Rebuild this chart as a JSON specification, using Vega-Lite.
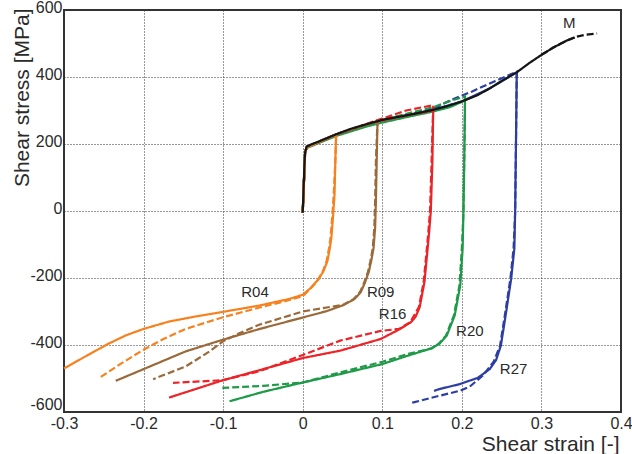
{
  "$schema": "https://vega.github.io/schema/vega-lite/v6.json",
  "width": 557,
  "height": 402,
  "autosize": {"type": "none"},
  "padding": {"left": 64, "top": 10, "right": 11, "bottom": 42},
  "background": "white",
  "config": {
    "view": {"stroke": "#333333", "strokeWidth": 2},
    "font": "Liberation Sans",
    "axis": {
      "domain": false,
      "ticks": false,
      "grid": true,
      "gridColor": "#333333",
      "gridDash": [1, 2],
      "gridWidth": 1,
      "labelFont": "Liberation Sans",
      "labelFontSize": 16,
      "labelColor": "#2a2a2a",
      "titleFont": "Liberation Sans",
      "titleFontSize": 21,
      "titleFontWeight": "normal",
      "titleColor": "#2a2a2a"
    }
  },
  "datasets": {
    "curves": [
      {"c":"R27","t":"model","x":0,"y":-5},{"c":"R27","t":"model","x":0.003,"y":175},{"c":"R27","t":"model","x":0.005,"y":192},{"c":"R27","t":"model","x":0.042,"y":229},{"c":"R27","t":"model","x":0.1,"y":272},{"c":"R27","t":"model","x":0.164,"y":302},{"c":"R27","t":"model","x":0.2,"y":327},{"c":"R27","t":"model","x":0.235,"y":366},{"c":"R27","t":"model","x":0.269,"y":414},{"c":"R27","t":"model","x":0.268,"y":200},{"c":"R27","t":"model","x":0.267,"y":0},{"c":"R27","t":"model","x":0.266,"y":-112},{"c":"R27","t":"model","x":0.262,"y":-202},{"c":"R27","t":"model","x":0.255,"y":-312},{"c":"R27","t":"model","x":0.249,"y":-402},{"c":"R27","t":"model","x":0.243,"y":-445},{"c":"R27","t":"model","x":0.235,"y":-472},{"c":"R27","t":"model","x":0.22,"y":-498},{"c":"R27","t":"model","x":0.197,"y":-517},{"c":"R27","t":"model","x":0.171,"y":-532},{"c":"R27","t":"model","x":0.165,"y":-537},
      {"c":"R27","t":"exp","x":0,"y":-5},{"c":"R27","t":"exp","x":0.003,"y":175},{"c":"R27","t":"exp","x":0.005,"y":192},{"c":"R27","t":"exp","x":0.042,"y":229},{"c":"R27","t":"exp","x":0.1,"y":272},{"c":"R27","t":"exp","x":0.164,"y":305},{"c":"R27","t":"exp","x":0.185,"y":330},{"c":"R27","t":"exp","x":0.213,"y":357},{"c":"R27","t":"exp","x":0.24,"y":386},{"c":"R27","t":"exp","x":0.269,"y":416},{"c":"R27","t":"exp","x":0.268,"y":200},{"c":"R27","t":"exp","x":0.267,"y":0},{"c":"R27","t":"exp","x":0.265,"y":-112},{"c":"R27","t":"exp","x":0.261,"y":-202},{"c":"R27","t":"exp","x":0.254,"y":-312},{"c":"R27","t":"exp","x":0.248,"y":-402},{"c":"R27","t":"exp","x":0.24,"y":-450},{"c":"R27","t":"exp","x":0.226,"y":-492},{"c":"R27","t":"exp","x":0.21,"y":-524},{"c":"R27","t":"exp","x":0.197,"y":-537},{"c":"R27","t":"exp","x":0.171,"y":-552},{"c":"R27","t":"exp","x":0.138,"y":-572},{"c":"R27","t":"exp","x":0.134,"y":-575},
      {"c":"R20","t":"model","x":0,"y":-5},{"c":"R20","t":"model","x":0.003,"y":175},{"c":"R20","t":"model","x":0.005,"y":188},{"c":"R20","t":"model","x":0.042,"y":224},{"c":"R20","t":"model","x":0.08,"y":252},{"c":"R20","t":"model","x":0.1,"y":264},{"c":"R20","t":"model","x":0.13,"y":280},{"c":"R20","t":"model","x":0.164,"y":297},{"c":"R20","t":"model","x":0.185,"y":310},{"c":"R20","t":"model","x":0.204,"y":330},{"c":"R20","t":"model","x":0.203,"y":150},{"c":"R20","t":"model","x":0.202,"y":0},{"c":"R20","t":"model","x":0.201,"y":-112},{"c":"R20","t":"model","x":0.198,"y":-222},{"c":"R20","t":"model","x":0.191,"y":-312},{"c":"R20","t":"model","x":0.181,"y":-372},{"c":"R20","t":"model","x":0.172,"y":-396},{"c":"R20","t":"model","x":0.162,"y":-410},{"c":"R20","t":"model","x":0.132,"y":-432},{"c":"R20","t":"model","x":0.1,"y":-457},{"c":"R20","t":"model","x":0.047,"y":-487},{"c":"R20","t":"model","x":0,"y":-512},{"c":"R20","t":"model","x":-0.05,"y":-540},{"c":"R20","t":"model","x":-0.092,"y":-568},
      {"c":"R20","t":"exp","x":0,"y":-5},{"c":"R20","t":"exp","x":0.003,"y":175},{"c":"R20","t":"exp","x":0.005,"y":190},{"c":"R20","t":"exp","x":0.042,"y":228},{"c":"R20","t":"exp","x":0.1,"y":272},{"c":"R20","t":"exp","x":0.164,"y":310},{"c":"R20","t":"exp","x":0.185,"y":328},{"c":"R20","t":"exp","x":0.204,"y":342},{"c":"R20","t":"exp","x":0.203,"y":150},{"c":"R20","t":"exp","x":0.202,"y":0},{"c":"R20","t":"exp","x":0.2,"y":-112},{"c":"R20","t":"exp","x":0.197,"y":-222},{"c":"R20","t":"exp","x":0.19,"y":-312},{"c":"R20","t":"exp","x":0.18,"y":-372},{"c":"R20","t":"exp","x":0.171,"y":-396},{"c":"R20","t":"exp","x":0.162,"y":-410},{"c":"R20","t":"exp","x":0.132,"y":-427},{"c":"R20","t":"exp","x":0.1,"y":-450},{"c":"R20","t":"exp","x":0.047,"y":-482},{"c":"R20","t":"exp","x":0,"y":-512},{"c":"R20","t":"exp","x":-0.05,"y":-522},{"c":"R20","t":"exp","x":-0.101,"y":-528},
      {"c":"R16","t":"model","x":0,"y":-5},{"c":"R16","t":"model","x":0.003,"y":175},{"c":"R16","t":"model","x":0.005,"y":190},{"c":"R16","t":"model","x":0.042,"y":228},{"c":"R16","t":"model","x":0.08,"y":258},{"c":"R16","t":"model","x":0.1,"y":270},{"c":"R16","t":"model","x":0.13,"y":285},{"c":"R16","t":"model","x":0.164,"y":300},{"c":"R16","t":"model","x":0.163,"y":150},{"c":"R16","t":"model","x":0.161,"y":0},{"c":"R16","t":"model","x":0.159,"y":-60},{"c":"R16","t":"model","x":0.157,"y":-112},{"c":"R16","t":"model","x":0.153,"y":-212},{"c":"R16","t":"model","x":0.147,"y":-287},{"c":"R16","t":"model","x":0.142,"y":-315},{"c":"R16","t":"model","x":0.136,"y":-332},{"c":"R16","t":"model","x":0.121,"y":-354},{"c":"R16","t":"model","x":0.098,"y":-382},{"c":"R16","t":"model","x":0.047,"y":-417},{"c":"R16","t":"model","x":0,"y":-439},{"c":"R16","t":"model","x":-0.054,"y":-475},{"c":"R16","t":"model","x":-0.1,"y":-505},{"c":"R16","t":"model","x":-0.168,"y":-557},
      {"c":"R16","t":"exp","x":0,"y":-5},{"c":"R16","t":"exp","x":0.003,"y":175},{"c":"R16","t":"exp","x":0.005,"y":190},{"c":"R16","t":"exp","x":0.042,"y":228},{"c":"R16","t":"exp","x":0.08,"y":260},{"c":"R16","t":"exp","x":0.1,"y":276},{"c":"R16","t":"exp","x":0.13,"y":300},{"c":"R16","t":"exp","x":0.164,"y":316},{"c":"R16","t":"exp","x":0.162,"y":150},{"c":"R16","t":"exp","x":0.16,"y":0},{"c":"R16","t":"exp","x":0.158,"y":-60},{"c":"R16","t":"exp","x":0.156,"y":-112},{"c":"R16","t":"exp","x":0.152,"y":-212},{"c":"R16","t":"exp","x":0.146,"y":-287},{"c":"R16","t":"exp","x":0.135,"y":-332},{"c":"R16","t":"exp","x":0.121,"y":-352},{"c":"R16","t":"exp","x":0.098,"y":-358},{"c":"R16","t":"exp","x":0.047,"y":-387},{"c":"R16","t":"exp","x":0,"y":-430},{"c":"R16","t":"exp","x":-0.054,"y":-478},{"c":"R16","t":"exp","x":-0.1,"y":-505},{"c":"R16","t":"exp","x":-0.163,"y":-513},
      {"c":"R09","t":"model","x":0,"y":-5},{"c":"R09","t":"model","x":0.003,"y":175},{"c":"R09","t":"model","x":0.005,"y":190},{"c":"R09","t":"model","x":0.02,"y":206},{"c":"R09","t":"model","x":0.042,"y":228},{"c":"R09","t":"model","x":0.06,"y":244},{"c":"R09","t":"model","x":0.08,"y":258},{"c":"R09","t":"model","x":0.094,"y":268},{"c":"R09","t":"model","x":0.093,"y":150},{"c":"R09","t":"model","x":0.092,"y":30},{"c":"R09","t":"model","x":0.091,"y":-50},{"c":"R09","t":"model","x":0.089,"y":-112},{"c":"R09","t":"model","x":0.086,"y":-150},{"c":"R09","t":"model","x":0.083,"y":-182},{"c":"R09","t":"model","x":0.078,"y":-215},{"c":"R09","t":"model","x":0.073,"y":-242},{"c":"R09","t":"model","x":0.065,"y":-263},{"c":"R09","t":"model","x":0.051,"y":-281},{"c":"R09","t":"model","x":0.03,"y":-299},{"c":"R09","t":"model","x":0,"y":-318},{"c":"R09","t":"model","x":-0.054,"y":-352},{"c":"R09","t":"model","x":-0.1,"y":-384},{"c":"R09","t":"model","x":-0.147,"y":-419},{"c":"R09","t":"model","x":-0.2,"y":-472},{"c":"R09","t":"model","x":-0.235,"y":-507},
      {"c":"R09","t":"exp","x":0,"y":-5},{"c":"R09","t":"exp","x":0.003,"y":175},{"c":"R09","t":"exp","x":0.005,"y":190},{"c":"R09","t":"exp","x":0.042,"y":228},{"c":"R09","t":"exp","x":0.08,"y":258},{"c":"R09","t":"exp","x":0.094,"y":270},{"c":"R09","t":"exp","x":0.092,"y":150},{"c":"R09","t":"exp","x":0.091,"y":30},{"c":"R09","t":"exp","x":0.09,"y":-50},{"c":"R09","t":"exp","x":0.088,"y":-112},{"c":"R09","t":"exp","x":0.085,"y":-150},{"c":"R09","t":"exp","x":0.082,"y":-182},{"c":"R09","t":"exp","x":0.077,"y":-215},{"c":"R09","t":"exp","x":0.072,"y":-242},{"c":"R09","t":"exp","x":0.064,"y":-263},{"c":"R09","t":"exp","x":0.051,"y":-280},{"c":"R09","t":"exp","x":0.025,"y":-290},{"c":"R09","t":"exp","x":0,"y":-300},{"c":"R09","t":"exp","x":-0.054,"y":-339},{"c":"R09","t":"exp","x":-0.079,"y":-364},{"c":"R09","t":"exp","x":-0.1,"y":-389},{"c":"R09","t":"exp","x":-0.117,"y":-419},{"c":"R09","t":"exp","x":-0.147,"y":-464},{"c":"R09","t":"exp","x":-0.188,"y":-502},
      {"c":"R04","t":"model","x":0,"y":-5},{"c":"R04","t":"model","x":0.001,"y":60},{"c":"R04","t":"model","x":0.003,"y":175},{"c":"R04","t":"model","x":0.005,"y":190},{"c":"R04","t":"model","x":0.02,"y":206},{"c":"R04","t":"model","x":0.03,"y":216},{"c":"R04","t":"model","x":0.042,"y":228},{"c":"R04","t":"model","x":0.041,"y":150},{"c":"R04","t":"model","x":0.04,"y":50},{"c":"R04","t":"model","x":0.038,"y":-20},{"c":"R04","t":"model","x":0.036,"y":-80},{"c":"R04","t":"model","x":0.034,"y":-112},{"c":"R04","t":"model","x":0.031,"y":-150},{"c":"R04","t":"model","x":0.026,"y":-180},{"c":"R04","t":"model","x":0.02,"y":-203},{"c":"R04","t":"model","x":0.01,"y":-230},{"c":"R04","t":"model","x":0,"y":-250},{"c":"R04","t":"model","x":-0.016,"y":-262},{"c":"R04","t":"model","x":-0.054,"y":-282},{"c":"R04","t":"model","x":-0.1,"y":-301},{"c":"R04","t":"model","x":-0.135,"y":-315},{"c":"R04","t":"model","x":-0.168,"y":-330},{"c":"R04","t":"model","x":-0.2,"y":-352},{"c":"R04","t":"model","x":-0.222,"y":-371},{"c":"R04","t":"model","x":-0.244,"y":-396},{"c":"R04","t":"model","x":-0.27,"y":-430},{"c":"R04","t":"model","x":-0.3,"y":-470},
      {"c":"R04","t":"exp","x":0,"y":-5},{"c":"R04","t":"exp","x":0.003,"y":175},{"c":"R04","t":"exp","x":0.005,"y":190},{"c":"R04","t":"exp","x":0.02,"y":206},{"c":"R04","t":"exp","x":0.042,"y":228},{"c":"R04","t":"exp","x":0.041,"y":150},{"c":"R04","t":"exp","x":0.039,"y":50},{"c":"R04","t":"exp","x":0.037,"y":-20},{"c":"R04","t":"exp","x":0.035,"y":-80},{"c":"R04","t":"exp","x":0.033,"y":-112},{"c":"R04","t":"exp","x":0.03,"y":-150},{"c":"R04","t":"exp","x":0.025,"y":-182},{"c":"R04","t":"exp","x":0.018,"y":-210},{"c":"R04","t":"exp","x":0.008,"y":-236},{"c":"R04","t":"exp","x":0,"y":-254},{"c":"R04","t":"exp","x":-0.02,"y":-268},{"c":"R04","t":"exp","x":-0.054,"y":-288},{"c":"R04","t":"exp","x":-0.1,"y":-317},{"c":"R04","t":"exp","x":-0.147,"y":-352},{"c":"R04","t":"exp","x":-0.175,"y":-382},{"c":"R04","t":"exp","x":-0.2,"y":-414},{"c":"R04","t":"exp","x":-0.23,"y":-458},{"c":"R04","t":"exp","x":-0.256,"y":-499},
      {"c":"M","t":"model","x":0,"y":-5},{"c":"M","t":"model","x":0.001,"y":60},{"c":"M","t":"model","x":0.002,"y":130},{"c":"M","t":"model","x":0.003,"y":175},{"c":"M","t":"model","x":0.005,"y":192},{"c":"M","t":"model","x":0.01,"y":198},{"c":"M","t":"model","x":0.02,"y":207},{"c":"M","t":"model","x":0.03,"y":217},{"c":"M","t":"model","x":0.042,"y":229},{"c":"M","t":"model","x":0.06,"y":245},{"c":"M","t":"model","x":0.08,"y":259},{"c":"M","t":"model","x":0.1,"y":272},{"c":"M","t":"model","x":0.12,"y":281},{"c":"M","t":"model","x":0.14,"y":290},{"c":"M","t":"model","x":0.164,"y":302},{"c":"M","t":"model","x":0.18,"y":312},{"c":"M","t":"model","x":0.2,"y":327},{"c":"M","t":"model","x":0.22,"y":346},{"c":"M","t":"model","x":0.235,"y":366},{"c":"M","t":"model","x":0.25,"y":388},{"c":"M","t":"model","x":0.269,"y":414},{"c":"M","t":"model","x":0.285,"y":442},{"c":"M","t":"model","x":0.3,"y":466},{"c":"M","t":"model","x":0.315,"y":488},{"c":"M","t":"model","x":0.332,"y":509},{"c":"M","t":"model","x":0.342,"y":518},
      {"c":"M","t":"exp","x":0.3,"y":466},{"c":"M","t":"exp","x":0.315,"y":488},{"c":"M","t":"exp","x":0.332,"y":509},{"c":"M","t":"exp","x":0.342,"y":519},{"c":"M","t":"exp","x":0.355,"y":526},{"c":"M","t":"exp","x":0.37,"y":530}
    ],
    "labels": [
      {"l":"M","x":0.335,"y":560},
      {"l":"R04","x":-0.06,"y":-241},
      {"l":"R09","x":0.098,"y":-243},
      {"l":"R16","x":0.113,"y":-306},
      {"l":"R20","x":0.21,"y":-357},
      {"l":"R27","x":0.265,"y":-472}
    ]
  },
  "layer": [
    {
      "data": {"name": "curves"},
      "mark": {"type": "line", "strokeWidth": 2.2, "strokeCap": "butt"},
      "encoding": {
        "x": {
          "field": "x", "type": "quantitative",
          "scale": {"domain": [-0.3, 0.4], "nice": false, "zero": false},
          "axis": {
            "values": [-0.3, -0.2, -0.1, 0, 0.1, 0.2, 0.3, 0.4],
            "labelExpr": "replace(format(datum.value, '.1~f'), '\u2212', '-')",
            "labelPadding": 3,
            "labelFlush": false,
            "title": "Shear strain [-]",
            "titleAnchor": null,
            "titleAlign": "right",
            "titleBaseline": "top",
            "titleX": 555,
            "titleY": 21
          }
        },
        "y": {
          "field": "y", "type": "quantitative",
          "scale": {"domain": [-600, 600], "nice": false, "zero": false},
          "axis": {
            "values": [-600, -400, -200, 0, 200, 400, 600],
            "labelExpr": "replace(format(datum.value, 'd'), '\u2212', '-')",
            "labelPadding": 2,
            "labelOffset": {"condition": {"test": "datum.value == -600", "value": -8}, "value": -3},
            "labelFlush": false,
            "title": "Shear stress [MPa]",
            "titleAngle": -90,
            "titleAnchor": null,
            "titleAlign": "right",
            "titleBaseline": "alphabetic",
            "titleX": -36,
            "titleY": -2
          }
        },
        "color": {
          "field": "c", "type": "nominal",
          "scale": {"domain": ["M", "R04", "R09", "R16", "R20", "R27"], "range": ["#151515", "#F5821F", "#9A6A3A", "#EC2327", "#1E9A48", "#2D3EA3"]},
          "legend": null
        },
        "strokeDash": {
          "field": "t", "type": "nominal",
          "scale": {"domain": ["model", "exp"], "range": [[1, 0], [7, 3]]},
          "legend": null
        },
        "order": {"value": null}
      }
    },
    {
      "data": {"name": "labels"},
      "mark": {"type": "text", "font": "Liberation Sans", "fontSize": 15, "color": "#2a2a2a", "align": "center", "baseline": "middle"},
      "encoding": {
        "x": {"field": "x", "type": "quantitative"},
        "y": {"field": "y", "type": "quantitative"},
        "text": {"field": "l", "type": "nominal"}
      }
    }
  ]
}
